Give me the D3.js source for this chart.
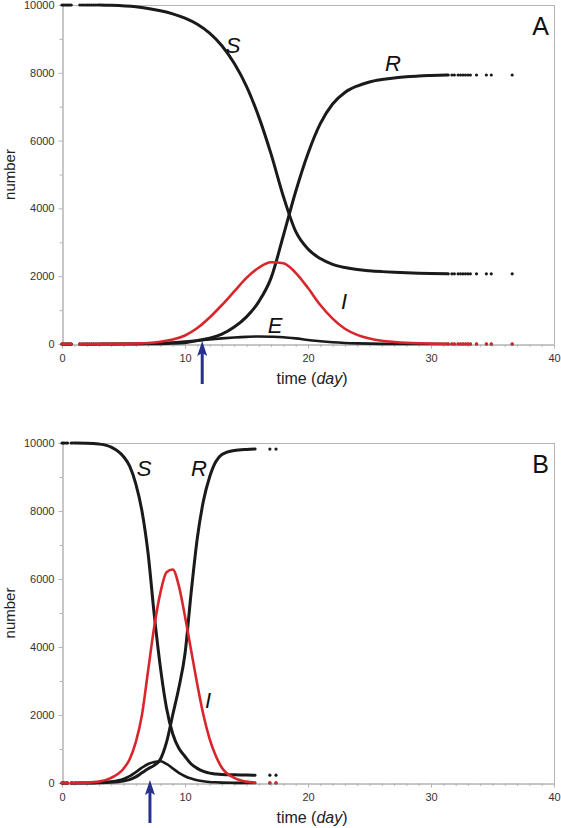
<!DOCTYPE html>
<html><head><meta charset="utf-8">
<script src="https://cdn.jsdelivr.net/npm/d3@7"></script>
<style>
html,body{margin:0;padding:0;background:#fff;}
svg{display:block;font-family:"Liberation Sans",Arial,sans-serif;}
</style></head>
<body><svg id="c" width="561" height="828"></svg>
<script>
// ---------- DATA ----------
// Panel A knots (day)
const tA = [0,2,3,4,6,7,8,9,10,11,12,13,14,15,16,17,18,19,20,21,22,23,24,25,26,27,28,29,30,31.3];
const S_A = [10000,10000,9998,9990,9945,9895,9830,9740,9610,9430,9170,8800,8280,7600,6700,5600,4350,3320,2800,2520,2350,2255,2195,2160,2135,2115,2100,2088,2078,2070];
const E_A = [0,0,1,2,8,15,25,45,70,100,135,165,190,210,222,215,200,165,120,80,50,30,18,10,5,3,2,1,0,0];
const I_A = [0,0,1,3,15,30,65,130,250,470,780,1150,1550,1950,2250,2410,2380,2100,1650,1150,750,450,270,160,95,60,35,20,12,5];
const R_A = [0,0,0,0,2,5,10,20,40,100,170,290,500,800,1250,1950,3200,4500,5620,6500,7080,7420,7610,7730,7800,7850,7880,7905,7920,7935];
const lineStartA = 3.0;
const sparseStartA = [0,0.12,0.25,0.38,0.5,0.62,0.75,1.45,1.62,1.78,1.95,2.1,2.25,2.4,2.55,2.7,2.85];
const sparseEndA = [31.4,31.7,31.9,32.2,32.4,32.6,32.8,33.0,33.2,33.7,34.5,34.9,36.6];
const arrowDayA = 11.4;

// Panel B knots (day)
const tB = [0,1,2,3,4,5,5.5,6,6.5,7,7.5,8,8.5,9,9.5,10,10.5,11,11.5,12,12.5,13,14,15,15.7];
const S_B = [10000,10000,9995,9970,9880,9600,9320,8800,8000,6750,4950,3400,2200,1450,1020,780,560,430,340,290,265,250,240,235,230];
const E_B = [0,0,2,10,40,120,200,320,450,560,620,640,560,430,300,200,130,80,50,30,20,12,5,2,0];
const I_B = [0,2,10,40,150,420,700,1200,2000,3300,4600,5600,6200,6280,5800,4900,3900,2900,2000,1300,800,450,150,40,10];
const R_B = [0,0,0,5,20,60,100,180,300,420,520,700,1200,2000,2800,3800,5600,7200,8300,9000,9450,9660,9780,9810,9820];
const lineStartB = 1.0;
const sparseStartB = [0,0.1,0.2,0.35,0.45,0.75,0.85];
const sparseEndB = [16.9,17.4];
const arrowDayB = 7.15;

const yTicksMajor = [0,2000,4000,6000,8000,10000];
const yTicksMinor = [1000,3000,5000,7000,9000];
const xTicksMajor = [0,10,20,30,40];
const xTicksMinor = d3.range(0,41,1);

// ---------- DRAW ----------
const svg = d3.select("#c");
const BLACK = "#1a1a1a", RED = "#d9262c", GRAY = "#b4b4b4", NAVY = "#27308f";

function panel(o){
  const x = d3.scaleLinear().domain([0,40]).range([62,554]);
  const y = d3.scaleLinear().domain([0,10000]).range([o.bottom,o.top]);
  const g = svg.append("g");
  g.append("line").attr("x1",62).attr("x2",554).attr("y1",o.top+0.5).attr("y2",o.top+0.5).attr("stroke",GRAY);
  g.append("line").attr("x1",554.5).attr("x2",554.5).attr("y1",o.top).attr("y2",o.bottom).attr("stroke",GRAY);
  const ay = g.append("g").attr("transform","translate(62.5,0)")
    .call(d3.axisLeft(y).tickValues(yTicksMajor).tickSize(4).tickSizeOuter(0).tickPadding(4).tickFormat(d3.format("d")));
  const ayMin = g.append("g").attr("transform","translate(62.5,0)")
    .call(d3.axisLeft(y).tickValues(yTicksMinor).tickSize(3).tickSizeOuter(0).tickFormat(""));
  const ax = g.append("g").attr("transform",`translate(0,${o.bottom+0.5})`)
    .call(d3.axisBottom(x).tickValues(xTicksMajor).tickSize(4).tickSizeOuter(0).tickPadding(6).tickFormat(d3.format("d")));
  const axMin = g.append("g").attr("transform",`translate(0,${o.bottom+0.5})`)
    .call(d3.axisBottom(x).tickValues(xTicksMinor).tickSize(2.5).tickSizeOuter(0).tickFormat(""));
  [ay,ayMin,ax,axMin].forEach(a=>{
    a.selectAll("path,line").attr("stroke",GRAY);
    a.selectAll("text").attr("fill","#333").style("font-size","11px").style("font-family","'Liberation Sans',Arial,sans-serif");
  });
  g.append("text").attr("transform",`translate(15,${(o.top+o.bottom)/2}) rotate(-90)`)
    .attr("text-anchor","middle").style("font-size","15px").attr("fill","#222").text("number");
  const xt = g.append("text").attr("x",312).attr("y",o.bottom+40).attr("text-anchor","middle")
    .style("font-size","16px").attr("fill","#222");
  xt.append("tspan").text("time (");
  xt.append("tspan").style("font-style","italic").text("day");
  xt.append("tspan").text(")");
  g.append("text").attr("x",549).attr("y",o.top+30).attr("text-anchor","end")
    .style("font-size","25px").attr("fill","#111").text(o.letter);

  const line = d3.line().x(d=>x(d[0])).y(d=>y(d[1])).curve(d3.curveMonotoneX);
  o.series.forEach(s=>{
    const pts = o.t.map((t,i)=>[t,s.v[i]]).filter(p=>p[0]>=o.lineStart);
    g.append("path").attr("d",line(pts)).attr("fill","none").attr("stroke",s.c)
      .attr("stroke-width",s.w).attr("stroke-linejoin","round").attr("stroke-linecap","round");
    const v0 = s.v[0], v1 = s.v[s.v.length-1];
    const dots = o.sparseStart.map(t=>[t,v0]).concat(o.sparseEnd.map(t=>[t,v1]));
    g.selectAll(null).data(dots).enter().append("circle")
      .attr("cx",d=>x(d[0])).attr("cy",d=>y(d[1])).attr("r",1.6).attr("fill",s.c);
  });
  o.labels.forEach(l=>{
    g.append("text").attr("x",l.x).attr("y",l.y).style("font-size","22px").style("font-style","italic")
      .attr("fill","#111").attr("text-anchor","middle").text(l.s);
  });
  const ax0 = x(o.arrowDay);
  g.append("line").attr("x1",ax0).attr("x2",ax0).attr("y1",o.bottom+40).attr("y2",o.bottom+9)
    .attr("stroke",NAVY).attr("stroke-width",3);
  g.append("path").attr("d",`M${ax0},${o.bottom-3} L${ax0-5},${o.bottom+12} L${ax0},${o.bottom+9} L${ax0+5},${o.bottom+12} Z`)
    .attr("fill",NAVY);
}

panel({top:5,bottom:344,letter:"A",t:tA,lineStart:lineStartA,sparseStart:sparseStartA,sparseEnd:sparseEndA,arrowDay:arrowDayA,
  series:[{v:E_A,c:BLACK,w:2.6},{v:R_A,c:BLACK,w:3},{v:S_A,c:BLACK,w:3},{v:I_A,c:RED,w:2.6}],
  labels:[{s:"S",x:233,y:53},{s:"R",x:393,y:71},{s:"I",x:344,y:309},{s:"E",x:275,y:333}]});
panel({top:443,bottom:783,letter:"B",t:tB,lineStart:lineStartB,sparseStart:sparseStartB,sparseEnd:sparseEndB,arrowDay:arrowDayB,
  series:[{v:E_B,c:BLACK,w:2.6},{v:R_B,c:BLACK,w:3},{v:S_B,c:BLACK,w:3},{v:I_B,c:RED,w:2.6}],
  labels:[{s:"S",x:144,y:476},{s:"R",x:199,y:476},{s:"I",x:208,y:708}]});
</script></body></html>
